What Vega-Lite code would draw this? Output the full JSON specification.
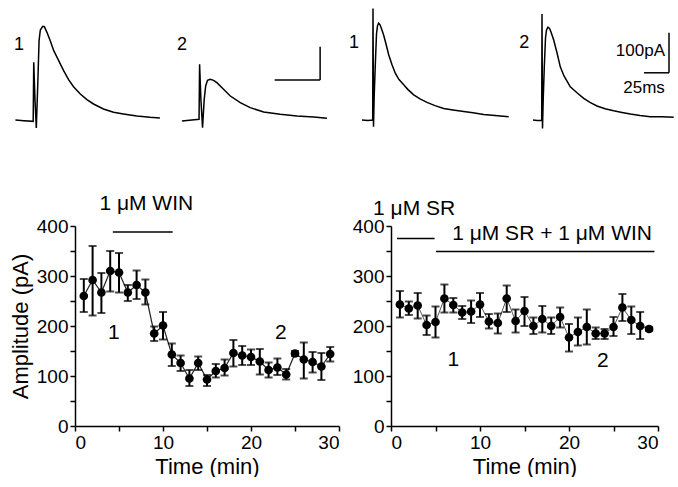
{
  "$schema": "https://vega.github.io/schema/vega-lite/v6.json",
  "padding": {"left": 9, "top": 5, "right": 0, "bottom": 0},
  "background": "white",
  "config": {
    "view": {"stroke": null},
    "font": "Liberation Sans",
    "axis": {
      "grid": false,
      "domainColor": "black",
      "domainWidth": 1.5,
      "tickColor": "black",
      "tickWidth": 1.5,
      "tickSize": 5,
      "labelFont": "Liberation Sans",
      "labelFontSize": 19,
      "labelColor": "black",
      "labelPadding": 2,
      "titleFont": "Liberation Sans",
      "titleFontSize": 22,
      "titleFontWeight": "normal",
      "titleColor": "black"
    },
    "text": {"font": "Liberation Sans", "color": "black"}
  },
  "datasets": {
    "trace1": [
      {"t": -10, "I": 0}, {"t": -5.4, "I": -2}, {"t": -0.3, "I": -4}, {"t": 0, "I": 173}, {"t": 0.7, "I": 58},
      {"t": 1.4, "I": -24}, {"t": 2.2, "I": 108}, {"t": 2.9, "I": 238}, {"t": 3.6, "I": 270}, {"t": 4.9, "I": 281},
      {"t": 5.8, "I": 280}, {"t": 7.2, "I": 263}, {"t": 9.1, "I": 236}, {"t": 10.9, "I": 208}, {"t": 13.6, "I": 178},
      {"t": 16.3, "I": 148}, {"t": 19, "I": 121}, {"t": 21.7, "I": 100}, {"t": 25.4, "I": 78}, {"t": 29, "I": 61},
      {"t": 32.6, "I": 48}, {"t": 38, "I": 33}, {"t": 43.5, "I": 23}, {"t": 48.9, "I": 18}, {"t": 56.2, "I": 12},
      {"t": 63.4, "I": 8}, {"t": 68.8, "I": 6}
    ],
    "trace2": [
      {"t": -9.6, "I": -3}, {"t": -4.2, "I": 0}, {"t": -0.3, "I": 2}, {"t": 0, "I": 167}, {"t": 0.7, "I": 62},
      {"t": 1.6, "I": -23}, {"t": 2.5, "I": 62}, {"t": 3.3, "I": 102}, {"t": 4.3, "I": 119}, {"t": 5.8, "I": 122},
      {"t": 7.6, "I": 119}, {"t": 9.4, "I": 112}, {"t": 13, "I": 92}, {"t": 16.7, "I": 72}, {"t": 22.1, "I": 52},
      {"t": 27.5, "I": 37}, {"t": 34.8, "I": 24}, {"t": 43.8, "I": 17}, {"t": 52.9, "I": 12}, {"t": 62, "I": 9},
      {"t": 69.2, "I": 5}
    ],
    "trace3": [
      {"t": -11, "I": 0}, {"t": -5, "I": -1}, {"t": -0.3, "I": 0}, {"t": 0, "I": 279}, {"t": 0.5, "I": -17},
      {"t": 1.2, "I": 60}, {"t": 2.3, "I": 138}, {"t": 3.5, "I": 215}, {"t": 4.5, "I": 236}, {"t": 5.7, "I": 242},
      {"t": 7, "I": 238}, {"t": 8.5, "I": 228}, {"t": 10.7, "I": 212}, {"t": 13, "I": 190}, {"t": 15.7, "I": 163},
      {"t": 19, "I": 138}, {"t": 22.3, "I": 117}, {"t": 26, "I": 101}, {"t": 30.7, "I": 88}, {"t": 35, "I": 76},
      {"t": 40.7, "I": 63}, {"t": 47, "I": 53}, {"t": 54, "I": 44}, {"t": 62, "I": 36}, {"t": 70.7, "I": 29},
      {"t": 80, "I": 25}, {"t": 90.7, "I": 21}, {"t": 100, "I": 18}, {"t": 110.7, "I": 14}, {"t": 122, "I": 11},
      {"t": 135.7, "I": 8}
    ],
    "trace4": [
      {"t": -9, "I": 0}, {"t": -5, "I": -1}, {"t": -0.3, "I": -1}, {"t": 0, "I": 265}, {"t": 0.5, "I": -21},
      {"t": 1.2, "I": 50}, {"t": 2.3, "I": 133}, {"t": 3.5, "I": 205}, {"t": 4.5, "I": 225}, {"t": 6, "I": 232},
      {"t": 7.5, "I": 229}, {"t": 9, "I": 220}, {"t": 11.7, "I": 200}, {"t": 15, "I": 168}, {"t": 18.3, "I": 133},
      {"t": 22, "I": 110}, {"t": 28.3, "I": 83}, {"t": 35, "I": 68}, {"t": 41.7, "I": 54}, {"t": 48, "I": 44},
      {"t": 55, "I": 35}, {"t": 63, "I": 28}, {"t": 71.7, "I": 23}, {"t": 80, "I": 19}, {"t": 88.3, "I": 15},
      {"t": 98, "I": 11}, {"t": 108.3, "I": 8}, {"t": 120, "I": 8}, {"t": 131.7, "I": 7}
    ],
    "win": [
      {"time": 1, "amp": 260, "lo": 228, "hi": 294}, {"time": 2, "amp": 292, "lo": 221, "hi": 360},
      {"time": 3, "amp": 267, "lo": 226, "hi": 306}, {"time": 4, "amp": 310, "lo": 269, "hi": 350},
      {"time": 5, "amp": 307, "lo": 267, "hi": 346}, {"time": 6, "amp": 267, "lo": 250, "hi": 282},
      {"time": 7, "amp": 282, "lo": 254, "hi": 311}, {"time": 8, "amp": 267, "lo": 243, "hi": 293},
      {"time": 9, "amp": 185, "lo": 170, "hi": 199}, {"time": 10, "amp": 201, "lo": 173, "hi": 228},
      {"time": 11, "amp": 143, "lo": 120, "hi": 165}, {"time": 12, "amp": 126, "lo": 110, "hi": 141},
      {"time": 13, "amp": 95, "lo": 80, "hi": 112}, {"time": 14, "amp": 126, "lo": 112, "hi": 139},
      {"time": 15, "amp": 93, "lo": 80, "hi": 102}, {"time": 16, "amp": 110, "lo": 97, "hi": 124},
      {"time": 17, "amp": 116, "lo": 101, "hi": 133}, {"time": 18, "amp": 146, "lo": 119, "hi": 172},
      {"time": 19, "amp": 141, "lo": 122, "hi": 160}, {"time": 20, "amp": 138, "lo": 122, "hi": 153},
      {"time": 21, "amp": 129, "lo": 103, "hi": 154}, {"time": 22, "amp": 112, "lo": 97, "hi": 127},
      {"time": 23, "amp": 117, "lo": 102, "hi": 135}, {"time": 24, "amp": 103, "lo": 93, "hi": 114},
      {"time": 25, "amp": 145, "lo": 140, "hi": 150}, {"time": 26, "amp": 133, "lo": 95, "hi": 167},
      {"time": 27, "amp": 128, "lo": 107, "hi": 148}, {"time": 28, "amp": 119, "lo": 92, "hi": 146},
      {"time": 29, "amp": 144, "lo": 129, "hi": 158}
    ],
    "srwin": [
      {"time": 1, "amp": 243, "lo": 217, "hi": 270}, {"time": 2, "amp": 235, "lo": 222, "hi": 249},
      {"time": 3, "amp": 241, "lo": 215, "hi": 266}, {"time": 4, "amp": 202, "lo": 182, "hi": 221},
      {"time": 5, "amp": 208, "lo": 177, "hi": 239}, {"time": 6, "amp": 255, "lo": 227, "hi": 283},
      {"time": 7, "amp": 242, "lo": 227, "hi": 256}, {"time": 8, "amp": 227, "lo": 214, "hi": 240},
      {"time": 9, "amp": 229, "lo": 206, "hi": 251}, {"time": 10, "amp": 243, "lo": 218, "hi": 266},
      {"time": 11, "amp": 209, "lo": 195, "hi": 224}, {"time": 12, "amp": 206, "lo": 185, "hi": 225},
      {"time": 13, "amp": 255, "lo": 228, "hi": 281}, {"time": 14, "amp": 210, "lo": 187, "hi": 233},
      {"time": 15, "amp": 230, "lo": 200, "hi": 258}, {"time": 16, "amp": 200, "lo": 184, "hi": 217},
      {"time": 17, "amp": 214, "lo": 187, "hi": 240}, {"time": 18, "amp": 200, "lo": 184, "hi": 217},
      {"time": 19, "amp": 218, "lo": 197, "hi": 237}, {"time": 20, "amp": 177, "lo": 149, "hi": 204},
      {"time": 21, "amp": 188, "lo": 161, "hi": 217}, {"time": 22, "amp": 198, "lo": 163, "hi": 233},
      {"time": 23, "amp": 185, "lo": 174, "hi": 197}, {"time": 24, "amp": 185, "lo": 174, "hi": 194},
      {"time": 25, "amp": 198, "lo": 180, "hi": 218}, {"time": 26, "amp": 237, "lo": 210, "hi": 264},
      {"time": 27, "amp": 212, "lo": 184, "hi": 239}, {"time": 28, "amp": 200, "lo": 174, "hi": 228},
      {"time": 29, "amp": 194, "lo": 190, "hi": 198}
    ]
  },
  "bounds": "full",
  "spacing": 57,
  "vconcat": [
    {
      "bounds": "full",
      "spacing": 0,
      "hconcat": [
        {
          "width": 97, "height": 130,
          "encoding": {
            "x": {"field": "t", "type": "quantitative", "scale": {"domain": [22.5, 75.4], "nice": false, "zero": false}, "axis": null},
            "y": {"field": "I", "type": "quantitative", "scale": {"domain": [-45, 345], "nice": false, "zero": false}, "axis": null}
          },
          "layer": [
            {"data": {"name": "trace1"}, "mark": {"type": "line", "color": "black", "strokeWidth": 1.5}},
            {"data": {"values": [{"t": -8, "I": 225, "label": "1"}]}, "mark": {"type": "text", "fontSize": 18}, "encoding": {"text": {"field": "label"}}}
          ]
        },
        {
          "width": 176, "height": 130,
          "encoding": {
            "x": {"field": "t", "type": "quantitative", "scale": {"domain": [-15, 80.65], "nice": false, "zero": false}, "axis": null},
            "y": {"field": "I", "type": "quantitative", "scale": {"domain": [-45, 345], "nice": false, "zero": false}, "axis": null}
          },
          "layer": [
            {"data": {"name": "trace2"}, "mark": {"type": "line", "color": "black", "strokeWidth": 1.5}},
            {"data": {"values": [{"t": -9.6, "I": 225, "label": "2"}]}, "mark": {"type": "text", "fontSize": 18}, "encoding": {"text": {"field": "label"}}},
            {"data": {"values": [{"t": 40.8, "t2": 65.5, "I": 120}]}, "mark": {"type": "rule", "color": "black", "strokeWidth": 1.5}, "encoding": {"x2": {"field": "t2"}}},
            {"data": {"values": [{"t": 65.5, "I": 120, "I2": 220}]}, "mark": {"type": "rule", "color": "black", "strokeWidth": 1.5}, "encoding": {"y2": {"field": "I2"}}}
          ]
        },
        {
          "width": 169, "height": 130,
          "encoding": {
            "x": {"field": "t", "type": "quantitative", "scale": {"domain": [-25, 144], "nice": false, "zero": false}, "axis": null},
            "y": {"field": "I", "type": "quantitative", "scale": {"domain": [-37.5, 287.5], "nice": false, "zero": false}, "axis": null}
          },
          "layer": [
            {"data": {"name": "trace3"}, "mark": {"type": "line", "color": "black", "strokeWidth": 1.5}},
            {"data": {"values": [{"t": -19, "I": 192, "label": "1"}]}, "mark": {"type": "text", "fontSize": 18}, "encoding": {"text": {"field": "label"}}}
          ]
        },
        {
          "width": 158, "height": 130,
          "encoding": {
            "x": {"field": "t", "type": "quantitative", "scale": {"domain": [-25, 133], "nice": false, "zero": false}, "axis": null},
            "y": {"field": "I", "type": "quantitative", "scale": {"domain": [-37.5, 287.5], "nice": false, "zero": false}, "axis": null}
          },
          "layer": [
            {"data": {"name": "trace4"}, "mark": {"type": "line", "color": "black", "strokeWidth": 1.5}},
            {"data": {"values": [{"t": -17.7, "I": 192, "label": "2"}]}, "mark": {"type": "text", "fontSize": 18}, "encoding": {"text": {"field": "label"}}},
            {"data": {"values": [{"t": 102, "t2": 127, "I": 118}]}, "mark": {"type": "rule", "color": "black", "strokeWidth": 1.5}, "encoding": {"x2": {"field": "t2"}}},
            {"data": {"values": [{"t": 127, "I": 118, "I2": 218}]}, "mark": {"type": "rule", "color": "black", "strokeWidth": 1.5}, "encoding": {"y2": {"field": "I2"}}},
            {"data": {"values": [{"t": 123, "I": 172, "label": "100pA"}]}, "mark": {"type": "text", "fontSize": 17, "align": "right"}, "encoding": {"text": {"field": "label"}}},
            {"data": {"values": [{"t": 102, "I": 80, "label": "25ms"}]}, "mark": {"type": "text", "fontSize": 17}, "encoding": {"text": {"field": "label"}}}
          ]
        }
      ]
    },
    {
      "bounds": "flush",
      "spacing": 52,
      "hconcat": [
        {
          "width": 264, "height": 200,
          "encoding": {
            "x": {"field": "time", "type": "quantitative", "title": "Time (min)", "scale": {"domain": [0, 30], "nice": false},
                  "axis": {"values": [0, 5, 10, 15, 20, 25, 30], "labelExpr": "datum.value % 10 === 0 ? datum.label : ''"}},
            "y": {"field": "amp", "type": "quantitative", "title": "Amplitude (pA)", "scale": {"domain": [0, 400], "nice": false},
                  "axis": {"values": [0, 50, 100, 150, 200, 250, 300, 350, 400], "labelExpr": "datum.value % 100 === 0 ? datum.label : ''"}}
          },
          "layer": [
            {"data": {"name": "win"}, "mark": {"type": "line", "color": "#222", "strokeWidth": 1.2}},
            {"data": {"name": "win"}, "mark": {"type": "rule", "color": "black", "strokeWidth": 2},
             "encoding": {"y": {"field": "lo", "type": "quantitative", "title": "Amplitude (pA)"}, "y2": {"field": "hi"}}},
            {"data": {"name": "win"}, "mark": {"type": "tick", "color": "black", "orient": "horizontal", "size": 8, "thickness": 2},
             "encoding": {"y": {"field": "lo", "type": "quantitative", "title": "Amplitude (pA)"}}},
            {"data": {"name": "win"}, "mark": {"type": "tick", "color": "black", "orient": "horizontal", "size": 8, "thickness": 2},
             "encoding": {"y": {"field": "hi", "type": "quantitative", "title": "Amplitude (pA)"}}},
            {"data": {"name": "win"}, "mark": {"type": "circle", "color": "black", "opacity": 1, "size": 75}},
            {"data": {"values": [{"time": 4.3, "time_end": 11.1, "amp": 388}]}, "mark": {"type": "rule", "color": "black", "strokeWidth": 1.3},
             "encoding": {"x2": {"field": "time_end"}}},
            {"data": {"values": [{"time": 8.1, "amp": 445, "label": "1 μM WIN"}, {"time": 4.4, "amp": 187, "label": "1"}, {"time": 23.4, "amp": 187, "label": "2"}]},
             "mark": {"type": "text", "fontSize": 21}, "encoding": {"text": {"field": "label"}}}
          ]
        },
        {
          "width": 267, "height": 200,
          "encoding": {
            "x": {"field": "time", "type": "quantitative", "title": "Time (min)", "scale": {"domain": [0, 30], "nice": false},
                  "axis": {"values": [0, 5, 10, 15, 20, 25, 30], "labelExpr": "datum.value % 10 === 0 ? datum.label : ''"}},
            "y": {"field": "amp", "type": "quantitative", "title": null, "scale": {"domain": [0, 400], "nice": false},
                  "axis": {"values": [0, 50, 100, 150, 200, 250, 300, 350, 400], "labelExpr": "datum.value % 100 === 0 ? datum.label : ''"}}
          },
          "layer": [
            {"data": {"name": "srwin"}, "mark": {"type": "line", "color": "#555", "strokeWidth": 1}},
            {"data": {"name": "srwin"}, "mark": {"type": "rule", "color": "black", "strokeWidth": 2},
             "encoding": {"y": {"field": "lo", "type": "quantitative", "title": null}, "y2": {"field": "hi"}}},
            {"data": {"name": "srwin"}, "mark": {"type": "tick", "color": "black", "orient": "horizontal", "size": 8, "thickness": 2},
             "encoding": {"y": {"field": "lo", "type": "quantitative", "title": null}}},
            {"data": {"name": "srwin"}, "mark": {"type": "tick", "color": "black", "orient": "horizontal", "size": 8, "thickness": 2},
             "encoding": {"y": {"field": "hi", "type": "quantitative", "title": null}}},
            {"data": {"name": "srwin"}, "mark": {"type": "circle", "color": "black", "opacity": 1, "size": 75}},
            {"data": {"values": [{"time": 0.67, "time_end": 4.9, "amp": 375}, {"time": 5.06, "time_end": 29.6, "amp": 349}]},
             "mark": {"type": "rule", "color": "black", "strokeWidth": 1.3}, "encoding": {"x2": {"field": "time_end"}}},
            {"data": {"values": [{"time": 2.6, "amp": 435, "label": "1 μM SR"}, {"time": 18.1, "amp": 385, "label": "1 μM SR + 1 μM WIN"}, {"time": 7.0, "amp": 133, "label": "1"}, {"time": 23.8, "amp": 131, "label": "2"}]},
             "mark": {"type": "text", "fontSize": 21}, "encoding": {"text": {"field": "label"}}}
          ]
        }
      ]
    }
  ]
}
